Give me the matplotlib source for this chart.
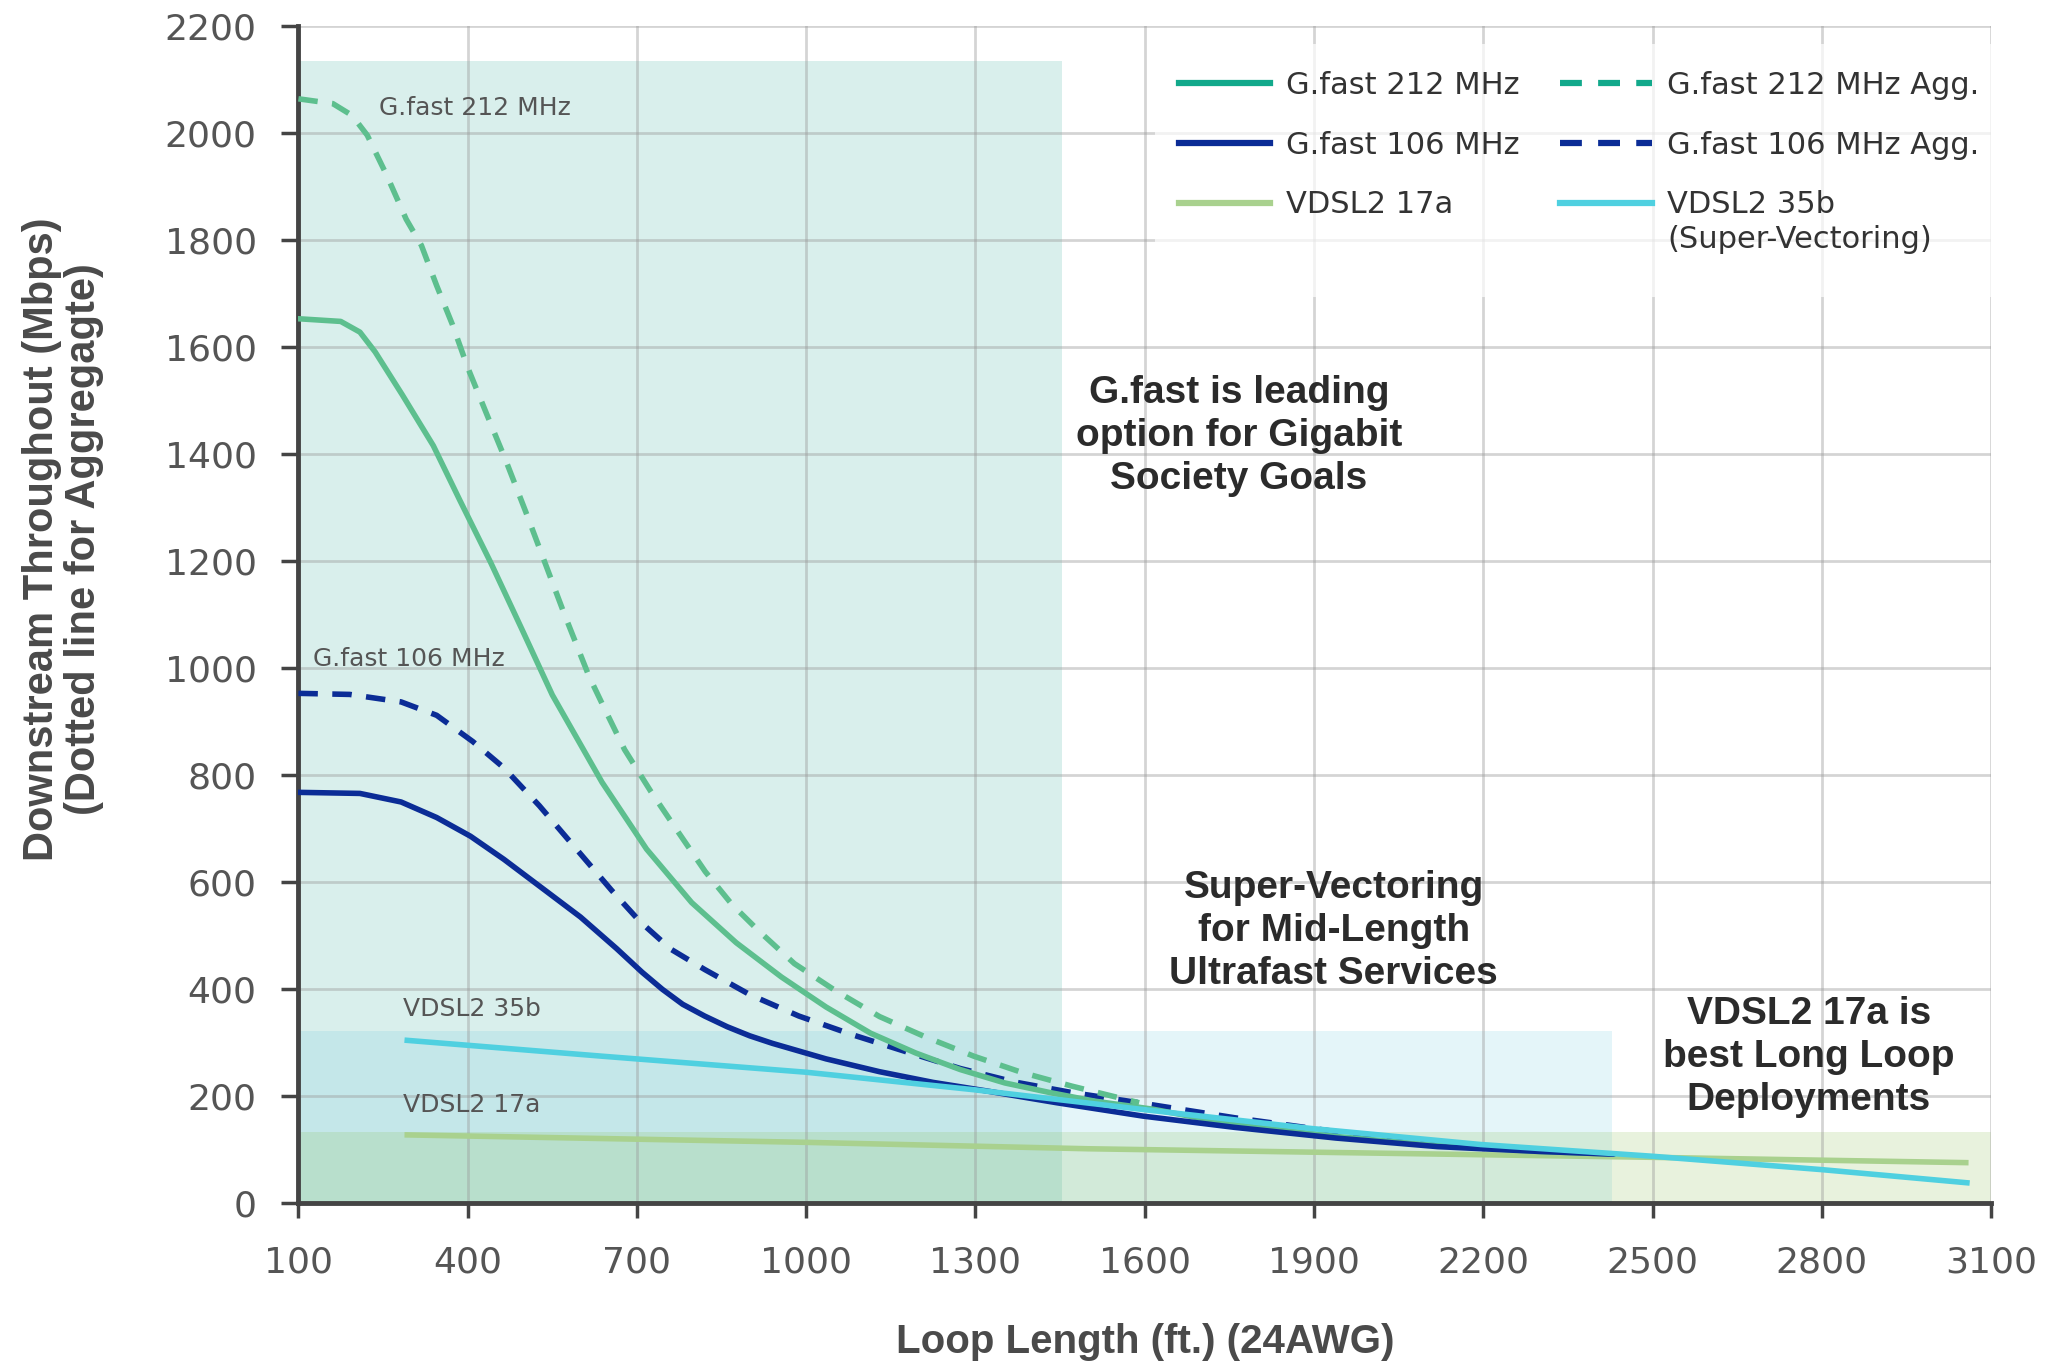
import numpy as np
import matplotlib.pyplot as plt
from matplotlib.lines import Line2D
from matplotlib.patches import Rectangle

# loop length (ft) and throughput (Mbps)
x_212 = [100, 175, 209, 236, 284, 339, 386, 441, 496, 550, 638, 717, 797, 876, 956, 1035,
         1114, 1194, 1273, 1352, 1432, 1511, 1614, 1759, 1939, 2119, 2299, 2430]
y_212 = [1653, 1648, 1628, 1591, 1511, 1416, 1314, 1197, 1073, 950, 787, 662, 562, 487, 423, 367,
         318, 281, 250, 225, 207, 191, 176, 147, 125, 108, 97, 92]

x_212_agg = [100, 161, 195, 222, 257, 291, 318, 345, 373, 400, 434, 468, 503, 537, 571, 615,
             640, 678, 725, 773, 821, 868, 916, 979, 1051, 1130, 1209, 1297, 1384, 1471, 1590]
y_212_agg = [2064, 2055, 2033, 1996, 1920, 1839, 1790, 1715, 1642, 1562, 1474, 1387, 1292, 1197,
             1102, 985, 930, 848, 769, 694, 620, 559, 509, 448, 398, 349, 312, 275, 244, 219, 188]

x_106 = [100, 209, 282, 345, 405, 464, 527, 600, 664, 709, 745, 781, 820, 860, 900, 940, 1035,
         1130, 1225, 1320, 1444, 1597, 1759, 1939, 2119, 2299, 2428]
y_106 = [768, 766, 750, 721, 686, 643, 593, 535, 476, 432, 400, 372, 350, 330, 313, 299, 270,
         246, 226, 210, 188, 163, 142, 122, 106, 97, 92]

x_106_agg = [100, 191, 282, 345, 409, 464, 527, 591, 655, 705, 760, 820, 900, 987, 1082, 1178,
             1273, 1368, 1471, 1590, 1759, 1939, 2074, 2120]
y_106_agg = [953, 951, 937, 912, 863, 814, 743, 664, 585, 527, 475, 437, 390, 350, 315, 283,
             252, 227, 207, 188, 160, 134, 117, 112]

x_35b = [288, 638, 1000, 1300, 1600, 1894, 2195, 2500, 2800, 3062]
y_35b = [305, 275, 245, 212, 175, 140, 110, 88, 63, 38]

x_17a = [288, 1000, 1500, 2000, 2500, 3060]
y_17a = [128, 114, 102, 94, 86, 76]

# shaded zones: (x start, x end, y top)
zona_gfast = (100, 1453, 2135)
zona_sv = (100, 2428, 322)
zona_17a = (100, 3100, 133)

kol_212 = '#5dbf8e'
kol_212_leg = '#12a98b'
kol_106 = '#0b2c96'
kol_17a = '#a9d18e'
kol_35b = '#4fd0e0'
tekst_szary = '#4a4a4a'
kreski = (0, (3.5, 2.6))

fig = plt.figure(figsize=(20.58, 13.69), dpi=100)
ax = fig.add_axes([0.145, 0.121, 0.8225, 0.860])

for (x0, x1, ytop), kolor, alfa in [(zona_gfast, (0.0, 0.59, 0.51), 0.15),
                                     (zona_sv, (0.31, 0.75, 0.86), 0.15),
                                     (zona_17a, (0.55, 0.75, 0.35), 0.20)]:
    ax.add_patch(Rectangle((x0, 0), x1 - x0, ytop, facecolor=kolor, alpha=alfa,
                           edgecolor='none', zorder=1))

lw = 4.0
ax.plot(x_17a, y_17a, color=kol_17a, lw=lw, solid_capstyle='butt', zorder=3)
ax.plot(x_106_agg, y_106_agg, color=kol_106, lw=lw, ls=kreski, zorder=3)
ax.plot(x_212_agg, y_212_agg, color=kol_212, lw=lw, ls=kreski, zorder=3)
ax.plot(x_212, y_212, color=kol_212, lw=lw, zorder=4)
ax.plot(x_106, y_106, color=kol_106, lw=lw, zorder=4)
ax.plot(x_35b, y_35b, color=kol_35b, lw=lw, solid_capstyle='butt', zorder=5)

ax.set_xlim(100, 3100)
ax.set_ylim(0, 2200)
ax.set_xticks(np.arange(100, 3101, 300))
ax.set_yticks(np.arange(0, 2201, 200))
ax.set_axisbelow('line')
ax.grid(True, color='#9a9a9a', alpha=0.42, lw=2.0, zorder=1.5)

for s in ['top', 'right']:
    ax.spines[s].set_visible(False)
for s in ['left', 'bottom']:
    ax.spines[s].set_color('#444444')
    ax.spines[s].set_linewidth(3.5)

ax.tick_params(axis='y', direction='out', length=12, width=2.5, color='#444444',
               pad=18, labelsize=26, labelcolor='#555555')
ax.tick_params(axis='x', direction='out', length=11, width=2.5, color='#444444',
               pad=19, labelsize=26, labelcolor='#555555')

pogrubiony = ['Liberation Sans', 'DejaVu Sans']
ax.set_xlabel('Loop Length (ft.) (24AWG)', fontsize=29, fontweight='bold',
              family=pogrubiony, color=tekst_szary, labelpad=32)
ax.text(-0.139, 0.564, 'Downstream Throughout (Mbps)\n(Dotted line for Aggregagte)',
        transform=ax.transAxes, rotation=90, ha='center', va='center',
        multialignment='center', fontsize=30, fontweight='bold', family=pogrubiony,
        color=tekst_szary, linespacing=1.05)

# small inline labels
for tx, ty, t in [(242, 2046, 'G.fast 212 MHz'), (126, 1017, 'G.fast 106 MHz'),
                  (286, 364, 'VDSL2 35b'), (286, 184, 'VDSL2 17a')]:
    ax.text(tx, ty, t, fontsize=18, color='#555555', va='center', ha='left', zorder=6)

# zone annotations
for tx, ty, t in [(1767, 1434, 'G.fast is leading\noption for Gigabit\nSociety Goals'),
                  (1935, 508, 'Super-Vectoring\nfor Mid-Length\nUltrafast Services'),
                  (2777, 273, 'VDSL2 17a is\nbest Long Loop\nDeployments')]:
    ax.text(tx, ty, t, fontsize=28, fontweight='bold', family=pogrubiony, color='#2b2b2b',
            ha='center', va='center', multialignment='center', linespacing=1.25, zorder=6)

# pale backing behind the legend
ax.add_patch(Rectangle((0.506, 0.77), 0.494, 0.215, transform=ax.transAxes,
                       facecolor='white', alpha=0.7, edgecolor='none', zorder=6))

uchwyty = [
    Line2D([], [], color=kol_212_leg, lw=4.5),
    Line2D([], [], color=kol_106, lw=4.5),
    Line2D([], [], color=kol_17a, lw=4.5),
    Line2D([], [], color=kol_212_leg, lw=4.5, ls=kreski),
    Line2D([], [], color=kol_106, lw=4.5, ls=kreski),
    Line2D([], [], color=kol_35b, lw=4.5),
]
etykiety = ['G.fast 212 MHz', 'G.fast 106 MHz', 'VDSL2 17a',
            'G.fast 212 MHz Agg.', 'G.fast 106 MHz Agg.', 'VDSL2 35b']
leg = ax.legend(uchwyty, etykiety, ncol=2, loc='upper right', bbox_to_anchor=(1.0094, 0.985),
                fontsize=22, frameon=False, handlelength=3.0, handletextpad=0.5,
                columnspacing=1.35, labelspacing=1.0, borderpad=0.4)
leg.set_zorder(7)
for t in leg.get_texts():
    t.set_color('#333333')

# second line of the VDSL2 35b entry, placed under the first
fig.canvas.draw()
bb = leg.get_texts()[5].get_window_extent()
W, H = fig.canvas.get_width_height()
fig.text(bb.x0 / W, (bb.y0 - 6) / H, '(Super-Vectoring)', fontsize=22, color='#333333',
         ha='left', va='top')

fig.savefig('out.png', dpi=100)
